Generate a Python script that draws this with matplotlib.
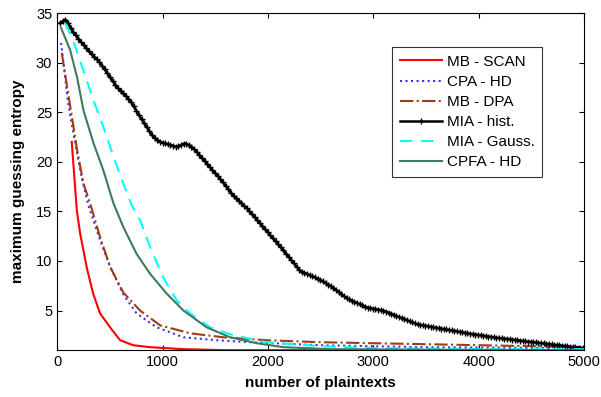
import matplotlib.pyplot as plt
import numpy as np

plt.rcParams['font.family'] = ['Liberation Sans', 'DejaVu Sans']

# MB - SCAN
scan_x = [139, 187, 218, 282, 342, 408, 503, 598, 721, 882, 1200, 1600, 2500, 5000]
scan_y = [22.0, 15.1, 12.8, 9.3, 6.7, 4.7, 3.3, 2.0, 1.5, 1.3, 1.1, 1.0, 1.0, 1.0]

# CPA - HD
cpa_x = [38, 105, 171, 234, 297, 408, 503, 629, 755, 945, 1198, 1514, 1831, 2500, 3500, 5000]
cpa_y = [32.0, 25.9, 21.9, 18.4, 15.6, 12.1, 9.4, 6.6, 4.7, 3.3, 2.3, 2.0, 1.8, 1.5, 1.3, 1.2]

# MB - DPA
dpa_x = [44, 105, 190, 250, 313, 408, 503, 629, 787, 977, 1261, 1577, 1989, 2500, 3500, 4500, 5000]
dpa_y = [31.0, 26.9, 21.2, 17.8, 15.8, 12.4, 9.4, 6.8, 5.0, 3.5, 2.7, 2.3, 2.0, 1.8, 1.6, 1.4, 1.3]

# MIA - hist.
hist_x = [28, 85, 150, 313, 408, 570, 693, 788, 913, 978, 1138, 1214, 1290, 1423, 1546, 1670,
          1802, 1955, 2144, 2305, 2495, 2619, 2752, 2941, 3093, 3254, 3416, 3634, 3890, 4136,
          4364, 4677, 4990]
hist_y = [34.0, 34.4, 33.1, 31.0, 30.0, 27.5, 26.2, 24.5, 22.5, 22.0, 21.5, 21.9, 21.4, 19.8,
          18.3, 16.6, 15.3, 13.4, 11.1, 9.0, 8.1, 7.3, 6.2, 5.3, 5.0, 4.3, 3.6, 3.2, 2.7, 2.3,
          2.0, 1.6, 1.2]

# MIA - Gauss.
gauss_x = [76, 150, 250, 345, 440, 535, 629, 708, 788, 882, 1009, 1136, 1262, 1452, 1672, 1990,
           2500, 3000, 4000, 5000]
gauss_y = [34.0, 32.3, 29.2, 26.2, 23.5, 20.5, 17.8, 15.6, 14.1, 11.4, 8.3, 6.0, 4.7, 3.3, 2.5,
           1.8, 1.4, 1.2, 1.1, 1.1]

# CPFA - HD
cpfa_x = [38, 123, 190, 250, 345, 440, 535, 629, 755, 882, 1040, 1198, 1419, 1641, 1894, 2147,
          2600, 3500, 5000]
cpfa_y = [33.5, 31.3, 28.5, 25.2, 21.9, 19.1, 15.8, 13.4, 10.7, 8.7, 6.7, 5.0, 3.3, 2.3, 1.7,
          1.3, 1.1, 1.05, 1.0]

fig = plt.figure(figsize=(6.01, 3.97), dpi=100)
ax = fig.add_axes([0.095, 0.118, 0.877, 0.849])

ax.plot(scan_x, scan_y, color='red', lw=1.5, label='MB - SCAN')
ax.plot(cpa_x, cpa_y, color='#3333ff', lw=1.5, ls=':', label='CPA - HD')
ax.plot(dpa_x, dpa_y, color='#a03c10', lw=1.5, ls='-.', label='MB - DPA')
hx = np.linspace(hist_x[0], hist_x[-1], 200)
ax.plot(hx, np.interp(hx, hist_x, hist_y), color='black', lw=1.8, marker='+', ms=4,
        mew=1, label='MIA - hist.')
ax.plot(gauss_x, gauss_y, color='cyan', lw=1.5, ls=(0, (6, 4)), label='MIA - Gauss.')
ax.plot(cpfa_x, cpfa_y, color='#3f7a5e', lw=1.5, label='CPFA - HD')

ax.set_xlim(0, 5000)
ax.set_ylim(1, 35)
ax.set_xticks(range(0, 5001, 1000))
ax.set_yticks(range(5, 36, 5))
ax.tick_params(direction='in', top=True, right=True, labelsize=10.5)
ax.set_xlabel('number of plaintexts', fontsize=11, fontweight='bold', labelpad=5)
ax.set_ylabel('maximum guessing entropy', fontsize=11, fontweight='bold', labelpad=8)

leg = ax.legend(loc='upper right', bbox_to_anchor=(0.92, 0.899), fancybox=False,
                edgecolor='black', fontsize=11, handlelength=2.8, borderpad=0.5,
                labelspacing=0.4, handletextpad=0.27, borderaxespad=0)
leg.get_frame().set_linewidth(0.8)

fig.savefig('out.png', dpi=100)
